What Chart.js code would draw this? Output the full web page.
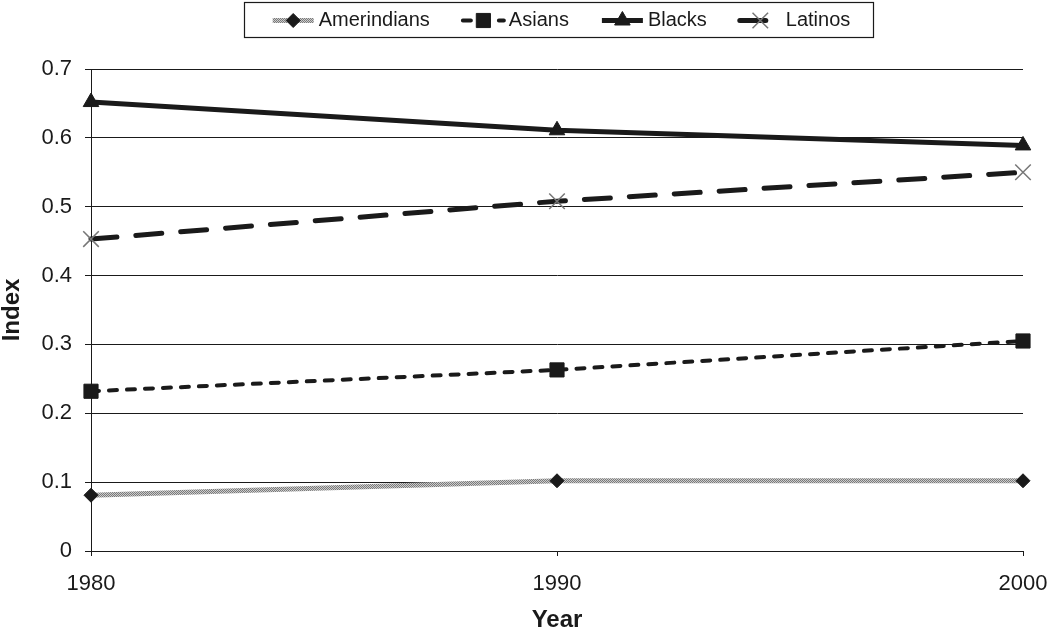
<!DOCTYPE html>
<html>
<head>
<meta charset="utf-8">
<script src="https://cdn.jsdelivr.net/npm/chart.js@4.4.1/dist/chart.umd.min.js"></script>
<style>
  html, body { margin: 0; padding: 0; background: #fff; }
  #wrap { width: 1050px; height: 632px; }
</style>
</head>
<body>
<div id="wrap"><canvas id="chart" width="1050" height="632"></canvas></div>
<script>
// data
const years = ['1980', '1990', '2000'];
const yTickLabels = ['0', '0.1', '0.2', '0.3', '0.4', '0.5', '0.6', '0.7'];
const seriesNames = ['Amerindians', 'Asians', 'Blacks', 'Latinos'];
const amerindians = [0.081, 0.102, 0.102];
const asians = [0.232, 0.263, 0.305];
const blacks = [0.652, 0.611, 0.589];
const latinos = [0.453, 0.508, 0.550];

const FONT = "'Liberation Sans', Arial, sans-serif";
const INK = '#1a1a1a';

// gray checkered texture for the Amerindians line
function makeTexture() {
    const c = document.createElement('canvas');
    c.width = 2; c.height = 2;
    const g = c.getContext('2d');
    g.fillStyle = '#cccccc'; g.fillRect(0, 0, 2, 2);
    g.fillStyle = '#7a7a7a'; g.fillRect(0, 0, 1, 1); g.fillRect(1, 1, 1, 1);
    return document.getElementById('chart').getContext('2d').createPattern(c, 'repeat');
}
const texture = makeTexture();

// small marker painter, used only for the legend samples
function drawMarker(ctx, style, x, y, r, fill, stroke, lw) {
    ctx.save();
    ctx.beginPath();
    if (style === 'rectRot') {
        ctx.moveTo(x - r, y); ctx.lineTo(x, y - r); ctx.lineTo(x + r, y); ctx.lineTo(x, y + r); ctx.closePath();
    } else if (style === 'rect') {
        const s = r * Math.SQRT1_2;
        ctx.rect(x - s, y - s, 2 * s, 2 * s);
    } else if (style === 'triangle') {
        ctx.moveTo(x, y - r);
        ctx.lineTo(x + r * 0.866, y + r * 0.5);
        ctx.lineTo(x - r * 0.866, y + r * 0.5);
        ctx.closePath();
    } else if (style === 'crossRot') {
        const d = r * Math.SQRT1_2;
        ctx.moveTo(x - d, y - d); ctx.lineTo(x + d, y + d);
        ctx.moveTo(x + d, y - d); ctx.lineTo(x - d, y + d);
    }
    if (style !== 'crossRot') { ctx.fillStyle = fill; ctx.fill(); }
    ctx.lineWidth = lw; ctx.strokeStyle = stroke; ctx.stroke();
    ctx.restore();
}

const boxedLegend = {
    id: 'boxedLegend',
    afterDraw(chart) {
        const ctx = chart.ctx;
        const box = { x: 244, y: 2, w: 629, h: 35 };
        ctx.save();
        ctx.strokeStyle = INK;
        ctx.lineWidth = 1.2;
        ctx.strokeRect(box.x + 0.5, box.y + 0.5, box.w, box.h);
        ctx.font = '20px ' + FONT;
        ctx.textBaseline = 'middle';
        const sampleW = 45, gapText = 3, gapItem = 31;
        let total = 0;
        chart.data.datasets.forEach((ds, i) => {
            total += sampleW + gapText + ctx.measureText(ds.label).width + (i ? gapItem : 0);
        });
        let x = box.x + (box.w - total) / 2 + 2;
        const cy = box.y + box.h / 2 + 1;
        chart.data.datasets.forEach(ds => {
            ctx.save();
            ctx.beginPath();
            ctx.setLineDash(ds.borderDash || []);
            ctx.lineCap = ds.borderCapStyle || 'butt';
            ctx.strokeStyle = ds.borderColor;
            ctx.lineWidth = ds.borderWidth;
            ctx.moveTo(x + 2, cy);
            ctx.lineTo(x + sampleW - 2, cy);
            ctx.stroke();
            ctx.restore();
            drawMarker(ctx, ds.pointStyle, x + sampleW / 2, cy, ds.pointRadius,
                ds.pointBackgroundColor, ds.pointBorderColor, ds.pointBorderWidth);
            ctx.fillStyle = INK;
            ctx.fillText(ds.label, x + sampleW + gapText, cy);
            x += sampleW + gapText + ctx.measureText(ds.label).width + gapItem;
        });
        ctx.restore();
    }
};

new Chart(document.getElementById('chart'), {
    type: 'line',
    data: {
        labels: years,
        datasets: [
            {
                label: seriesNames[0],
                data: amerindians,
                borderColor: texture,
                borderWidth: 5,
                pointStyle: 'rectRot',
                pointRadius: 7,
                pointBackgroundColor: INK,
                pointBorderColor: INK,
                pointBorderWidth: 1,
                tension: 0,
                clip: false
            },
            {
                label: seriesNames[1],
                data: asians,
                borderColor: INK,
                borderWidth: 4,
                borderDash: [8, 10],
                borderCapStyle: 'round',
                pointStyle: 'rect',
                pointRadius: 10,
                pointBackgroundColor: INK,
                pointBorderColor: INK,
                pointBorderWidth: 1,
                tension: 0,
                clip: false
            },
            {
                label: seriesNames[2],
                data: blacks,
                borderColor: INK,
                borderWidth: 5,
                pointStyle: 'triangle',
                pointRadius: 9,
                pointBackgroundColor: INK,
                pointBorderColor: INK,
                pointBorderWidth: 1,
                tension: 0,
                clip: false
            },
            {
                label: seriesNames[3],
                data: latinos,
                borderColor: INK,
                borderWidth: 5,
                borderDash: [26, 19],
                borderCapStyle: 'round',
                pointStyle: 'crossRot',
                pointRadius: 11,
                pointBackgroundColor: '#777',
                pointBorderColor: '#777',
                pointBorderWidth: 1.5,
                tension: 0,
                clip: false
            }
        ]
    },
    options: {
        responsive: false,
        animation: false,
        events: [],
        layout: { padding: { top: 69, right: 27, bottom: 0, left: 0 } },
        plugins: {
            legend: { display: false },
            tooltip: { enabled: false }
        },
        scales: {
            x: {
                offset: false,
                afterFit: (scale) => {
                    scale.height = 81;
                    scale.paddingLeft = 0;
                    scale.paddingRight = 0;
                },
                grid: {
                    drawOnChartArea: false,
                    drawTicks: true,
                    tickLength: 5,
                    color: INK
                },
                border: { color: INK, width: 1 },
                ticks: {
                    color: INK,
                    padding: 15,
                    maxRotation: 0,
                    font: { family: FONT, size: 22 }
                },
                title: {
                    display: true,
                    text: 'Year',
                    color: INK,
                    padding: 0,
                    font: { family: FONT, size: 24, weight: 'bold', lineHeight: 1 }
                }
            },
            y: {
                min: 0,
                max: 0.7,
                afterFit: (scale) => {
                    scale.width = 91;
                    scale.paddingTop = 0;
                    scale.paddingBottom = 0;
                },
                grid: {
                    color: INK,
                    lineWidth: 1,
                    tickLength: 6
                },
                border: { color: INK, width: 1 },
                ticks: {
                    stepSize: 0.1,
                    color: INK,
                    padding: 13,
                    font: { family: FONT, size: 22 },
                    callback: (value, index) => yTickLabels[index]
                },
                title: {
                    display: true,
                    text: 'Index',
                    color: INK,
                    padding: 0,
                    font: { family: FONT, size: 24, weight: 'bold', lineHeight: 1 }
                }
            }
        }
    },
    plugins: [boxedLegend]
});
</script>
</body>
</html>
